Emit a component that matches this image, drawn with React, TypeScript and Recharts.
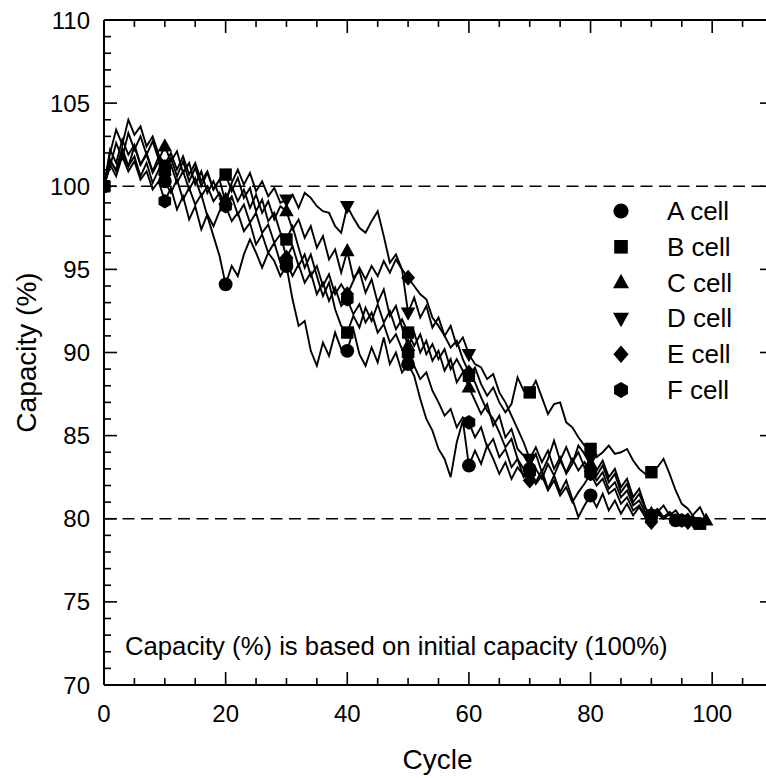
import React from 'react';
import { LineChart, Line, XAxis, YAxis, ReferenceLine, Legend } from 'recharts';

const FONT = '"Liberation Sans", Arial, Helvetica, sans-serif';

// capacity (%) per cycle, index = cycle number
const aCell = [100, 101.5, 101.0, 102.3, 101.2, 101.8, 100.6, 101.4, 100.2, 101.0,
  100.3, 99.6, 100.4, 99.2, 99.9, 98.9, 99.5, 98.2, 97.0, 95.8,
  94.1, 95.2, 94.6, 95.9, 96.8, 96.0, 95.1, 96.0, 95.5, 94.6,
  95.2, 93.2, 91.6, 91.9, 90.1, 89.2, 90.6, 89.8, 91.2, 90.2,
  90.1, 91.4, 89.9, 89.2, 90.3, 89.4, 90.9, 89.3, 90.0, 88.8,
  89.3, 88.6, 87.2, 86.0, 85.3, 84.2, 83.6, 82.5, 84.6, 85.9,
  83.2, 84.1, 83.3, 84.4, 83.6, 82.7, 83.4, 82.4, 83.1, 82.6,
  83.0, 82.2, 82.9, 81.8, 82.6, 81.6, 82.3, 81.2, 80.1, 80.8,
  81.4, 80.7, 81.5, 80.5, 81.1, 80.3, 80.9, 80.2, 80.7, 80.1,
  80.2, 80.5, 80.0, 80.3, 79.9];

const bCell = [100, 102.2, 101.4, 102.8, 101.9, 102.5, 101.3, 102.0, 100.9, 101.8,
  101.0, 101.7, 100.6, 101.5, 100.3, 101.1, 100.0, 100.8, 99.8, 100.4,
  100.7, 99.7, 100.5, 99.3, 99.9, 98.5, 99.2, 97.9, 98.4, 97.2,
  96.8, 97.6, 96.3, 95.1, 95.9, 94.6, 93.4, 94.2, 92.6, 91.6,
  91.2, 92.2, 91.5, 92.7, 91.9, 92.9, 91.8, 92.5, 91.4, 92.0,
  91.2, 90.4, 91.1, 89.9, 90.5, 89.6, 90.2, 89.0, 89.6, 88.9,
  88.6, 89.1, 88.1, 87.4, 87.9, 87.0, 86.4, 86.9, 88.5, 87.7,
  87.6, 88.3, 87.3, 86.3, 86.9, 87.0, 85.8, 85.5, 84.9, 84.4,
  84.2, 83.7, 84.0, 84.4, 83.9, 84.0, 84.2, 83.5, 83.0, 82.7,
  82.8, 83.1, 83.6, 82.7, 81.7, 80.9, 80.6, 80.1, 79.7];

const cCell = [100, 101.2, 102.6, 101.7, 103.2, 102.2, 103.0, 101.9, 102.7, 101.6,
  102.4, 101.5, 102.1, 100.8, 101.4, 100.1, 100.9, 99.6, 100.3, 99.4,
  99.2, 100.0, 99.1, 99.8, 98.7, 99.5, 98.4, 99.1, 98.0, 98.8,
  98.5, 97.4, 98.0, 96.9, 97.6, 96.3, 97.0, 95.6, 96.2, 94.8,
  96.1, 94.5, 94.9, 93.6, 94.4, 93.0, 93.8, 92.2, 92.8, 91.5,
  90.4, 91.2, 90.0, 90.7, 89.5, 90.1, 88.9, 89.6, 88.2, 88.8,
  87.9, 87.1, 86.3, 86.9, 85.6, 86.2, 84.9, 85.4, 84.2, 83.8,
  83.2, 83.9, 82.8, 83.6, 84.7, 83.5, 84.3, 83.4, 84.0, 83.1,
  83.3, 82.6, 83.2, 82.2, 82.7, 81.6, 82.1, 81.0, 81.5, 80.6,
  80.3, 80.6, 80.1, 80.4, 79.9, 80.2, 79.8, 80.3, 80.7, 79.9];

const dCell = [100, 102.0, 103.4, 102.5, 104.0, 103.1, 103.6, 102.4, 103.0, 101.9,
  101.3, 102.0, 101.0, 101.8, 100.7, 101.4, 100.3, 100.9, 99.8, 100.4,
  99.0, 100.2, 101.0, 100.1, 100.8, 99.7, 100.3, 99.4, 99.9, 99.0,
  99.2, 99.5, 98.7, 99.6, 99.3, 98.8, 98.5, 98.4, 97.6, 97.2,
  98.8, 98.1, 97.5, 97.2, 97.9, 98.5, 97.0, 95.4, 95.9, 95.0,
  92.4, 93.3, 92.1, 92.8, 91.5, 92.1, 91.0, 91.6, 90.4, 90.9,
  89.9, 89.3, 89.1, 88.4, 88.7, 87.6, 87.0, 86.2, 85.4, 84.6,
  83.6, 84.3, 83.4, 84.1, 83.0, 83.7, 82.7, 83.3, 84.4, 83.9,
  83.6, 82.9, 83.5, 82.5, 83.0, 81.9, 82.4, 81.3, 81.8, 80.7,
  80.0, 80.4, 80.8, 80.2, 80.5, 80.0, 80.3, 79.8];

const eCell = [100, 101.6, 100.9, 102.0, 101.2, 102.4, 101.3, 101.9, 100.8, 101.5,
  100.7, 101.3, 100.2, 100.9, 99.8, 100.5, 99.4, 100.0, 99.1, 99.6,
  98.9, 99.4, 98.3, 98.9, 97.8, 98.4, 97.2, 97.7, 96.6, 97.1,
  95.7, 96.4, 95.2, 95.9, 94.6, 95.2, 94.0, 94.7, 93.5, 94.1,
  93.5, 94.3, 95.1, 94.4, 95.2, 94.6, 95.5, 94.8, 95.6, 95.0,
  94.5, 94.0, 93.5, 93.2, 92.1, 91.6, 91.0, 90.3, 90.7, 89.6,
  88.8, 88.2, 87.3, 86.5, 86.0, 85.2, 84.3, 84.8, 83.6, 83.0,
  82.3, 83.0, 82.4, 83.3, 82.6, 83.5, 82.8, 83.6, 82.9, 83.4,
  82.9, 82.3, 82.8, 81.8, 82.2, 81.3, 81.7, 80.8, 81.1, 80.4,
  79.8, 80.3, 80.0, 80.4, 80.1, 79.9, 79.8];

const fCell = [100, 101.3, 100.6, 101.8, 100.9, 101.5, 100.4, 100.9, 99.8, 100.3,
  99.1, 99.9, 98.6, 99.4, 98.0, 98.8, 97.4, 98.3, 97.6, 98.5,
  98.8, 97.9, 98.4, 97.3, 97.8, 96.5, 97.1, 96.0, 96.6, 95.4,
  95.5, 94.6, 95.3, 94.2, 94.8, 93.5, 94.2, 93.1, 93.9, 92.8,
  93.2, 92.3, 92.9, 91.8, 92.4, 91.2, 91.7, 90.6, 91.1, 90.2,
  89.9, 89.2, 88.4, 88.8, 87.7, 87.0, 86.2, 86.6, 85.5, 86.1,
  85.8, 84.9, 85.5, 84.3, 84.8, 83.7, 84.2, 83.1, 83.6, 82.5,
  82.8, 82.1, 82.6, 81.7, 82.3, 81.4, 81.9, 81.0, 81.6, 82.1,
  82.7, 82.0, 82.4, 81.5, 81.8, 80.9, 81.3, 80.5, 80.8, 80.2,
  80.1, 80.4, 80.0, 80.3, 80.1, 79.9];

const cellNames = ['A cell', 'B cell', 'C cell', 'D cell', 'E cell', 'F cell'];
const cellValues = [aCell, bCell, cCell, dCell, eCell, fCell];

type Shape = 'circle' | 'square' | 'up' | 'down' | 'diamond' | 'hexagon';
const shapes: Shape[] = ['circle', 'square', 'up', 'down', 'diamond', 'hexagon'];

const xTicks = Array.from({ length: 23 }, (_, i) => i * 5); // 0..110
const yTicks = Array.from({ length: 41 }, (_, i) => 70 + i); // 70..110

const series = cellNames.map((name, i) => ({
  name,
  shape: shapes[i],
  points: cellValues[i].map((v, c) => ({ cycle: c, v })),
}));

function Marker({ shape, cx, cy, s }: { shape: Shape; cx: number; cy: number; s: number }) {
  const pts = (arr: number[][]) => arr.map(p => p.join(',')).join(' ');
  switch (shape) {
    case 'circle':
      return <circle cx={cx} cy={cy} r={s * 0.95} fill="#000" />;
    case 'square':
      return <rect x={cx - s * 0.85} y={cy - s * 0.85} width={s * 1.7} height={s * 1.7} fill="#000" />;
    case 'up':
      return <polygon points={pts([[cx, cy - s * 1.1], [cx + s, cy + s * 0.7], [cx - s, cy + s * 0.7]])} fill="#000" />;
    case 'down':
      return <polygon points={pts([[cx, cy + s * 1.1], [cx + s, cy - s * 0.7], [cx - s, cy - s * 0.7]])} fill="#000" />;
    case 'diamond':
      return <polygon points={pts([[cx, cy - s * 1.1], [cx + s * 0.95, cy], [cx, cy + s * 1.1], [cx - s * 0.95, cy]])} fill="#000" />;
    default: {
      const h = Array.from({ length: 6 }, (_, k) => {
        const a = (Math.PI / 3) * k + Math.PI / 2;
        return [cx + s * Math.cos(a), cy - s * Math.sin(a)];
      });
      return <polygon points={pts(h)} fill="#000" />;
    }
  }
}

const makeDot = (shape: Shape, last: number) => (props: any) => {
  const { cx, cy, index } = props;
  if (index % 10 !== 0 && index !== last) return <g key={`d${index}`} />;
  return <Marker key={`d${index}`} shape={shape} cx={cx} cy={cy} s={7.3} />;
};

const text = (size: number) => ({ fontSize: size, fontFamily: FONT, fill: '#000' });

const BottomTick = (p: any) => {
  const v = p.payload.value;
  const major = v % 20 === 0;
  return (
    <g>
      <line x1={p.x} x2={p.x} y1={p.y} y2={p.y - (major ? 13 : 7)} stroke="#000" strokeWidth={1.6} />
      {major && <text x={p.x} y={p.y + 37} textAnchor="middle" {...text(24)}>{v}</text>}
    </g>
  );
};

const TopTick = (p: any) => {
  const major = p.payload.value % 20 === 0;
  return <line x1={p.x} x2={p.x} y1={p.y} y2={p.y + (major ? 13 : 7)} stroke="#000" strokeWidth={1.6} />;
};

const LeftTick = (p: any) => {
  const v = p.payload.value;
  const major = v % 5 === 0;
  return (
    <g>
      <line x1={p.x} x2={p.x + (major ? 13 : 7)} y1={p.y} y2={p.y} stroke="#000" strokeWidth={1.6} />
      {major && <text x={p.x - 14} y={p.y + 8.5} textAnchor="end" {...text(24)}>{v}</text>}
    </g>
  );
};

const RightTick = (p: any) => {
  const major = p.payload.value % 5 === 0;
  return <line x1={p.x} x2={p.x - (major ? 13 : 7)} y1={p.y} y2={p.y} stroke="#000" strokeWidth={1.6} />;
};

const xLabel = (props: any) => {
  const vb = props.viewBox;
  return <text x={vb.x + vb.width / 2 - 1} y={vb.y + 84} textAnchor="middle" {...text(28)}>Cycle</text>;
};

const yLabel = (props: any) => {
  const vb = props.viewBox;
  const x = vb.x + 36;
  const y = vb.y + vb.height / 2;
  return (
    <text x={x} y={y} transform={`rotate(-90 ${x} ${y})`} textAnchor="middle" {...text(28)}>
      Capacity (%)
    </text>
  );
};

const LegendBox = () => (
  <svg width={170} height={230}>
    {series.map((s, i) => {
      const cy = 21 + i * 35.8;
      return (
        <g key={s.name}>
          <Marker shape={s.shape} cx={21} cy={cy} s={8} />
          <text x={67} y={cy + 9} {...text(26)}>{s.name}</text>
        </g>
      );
    })}
  </svg>
);

export default function App() {
  const axisLine = { stroke: '#000', strokeWidth: 2 };
  return (
    <div style={{ position: 'absolute', left: 0, top: 0, width: 766, height: 778, overflow: 'hidden', background: '#fff' }}>
      <LineChart width={800} height={778} margin={{ top: 19, right: 26, bottom: 0, left: 0 }}>
        <XAxis
          type="number"
          dataKey="cycle"
          domain={[0, 110]}
          allowDataOverflow
          ticks={xTicks}
          interval={0}
          height={93}
          tickSize={0}
          tickMargin={0}
          tickLine={false}
          axisLine={axisLine}
          tick={BottomTick}
          label={xLabel}
        />
        <XAxis
          xAxisId="top"
          orientation="top"
          type="number"
          dataKey="cycle"
          domain={[0, 110]}
          allowDataOverflow
          ticks={xTicks}
          interval={0}
          height={1}
          tickSize={0}
          tickMargin={0}
          tickLine={false}
          axisLine={axisLine}
          tick={TopTick}
        />
        <YAxis
          type="number"
          domain={[70, 110]}
          allowDataOverflow
          ticks={yTicks}
          interval={0}
          width={104}
          tickSize={0}
          tickMargin={0}
          tickLine={false}
          axisLine={axisLine}
          tick={LeftTick}
          label={yLabel}
        />
        <YAxis
          yAxisId="right"
          orientation="right"
          type="number"
          domain={[70, 110]}
          allowDataOverflow
          ticks={yTicks}
          interval={0}
          width={1}
          tickSize={0}
          tickMargin={0}
          tickLine={false}
          axisLine={axisLine}
          tick={RightTick}
        />
        <ReferenceLine y={100} stroke="#000" strokeWidth={1.6} strokeDasharray="12 6.5" />
        <ReferenceLine y={80} stroke="#000" strokeWidth={1.6} strokeDasharray="12 6.5" />
        {series.map(s => (
          <Line
            key={s.name}
            name={s.name}
            data={s.points}
            dataKey="v"
            type="linear"
            stroke="#000"
            strokeWidth={1.9}
            dot={makeDot(s.shape, s.points.length - 1)}
            activeDot={false}
            isAnimationActive={false}
          />
        ))}
        <Legend
          layout="vertical"
          align="center"
          verticalAlign="middle"
          wrapperStyle={{ top: 190, left: 600, width: 170, height: 230 }}
          content={() => <LegendBox />}
        />
      </LineChart>
      <svg width={766} height={778} style={{ position: 'absolute', left: 0, top: 0, pointerEvents: 'none' }}>
        <text x={125} y={655} {...text(25.7)}>Capacity (%) is based on initial capacity (100%)</text>
      </svg>
    </div>
  );
}
